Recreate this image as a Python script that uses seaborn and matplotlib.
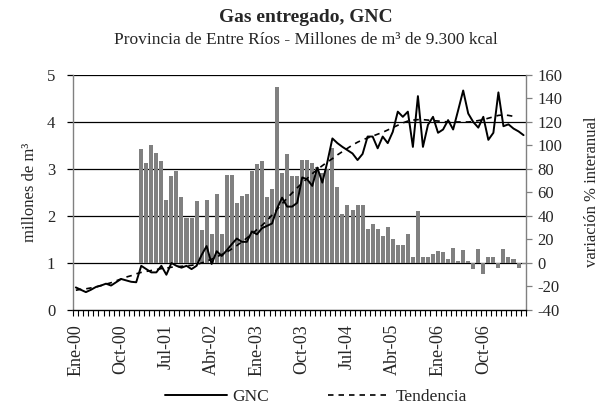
import numpy as np
import pandas as pd
import matplotlib
matplotlib.use("Agg")
import matplotlib.pyplot as plt
from matplotlib.lines import Line2D
import seaborn as sns

# Monthly periods Ene-00 .. Jun-07
meses = ["Ene", "Feb", "Mar", "Abr", "May", "Jun", "Jul", "Ago", "Sep", "Oct", "Nov", "Dic"]
periodos = [f"{m}-{a:02d}" for a in range(0, 8) for m in meses][:90]

# GNC delivered, millions of m3 (left axis)
gnc = [0.48, 0.43, 0.38, 0.43, 0.49, 0.52, 0.56, 0.52, 0.59, 0.66,
       0.63, 0.60, 0.59, 0.94, 0.87, 0.80, 0.80, 0.94, 0.75, 1.00,
       0.94, 0.90, 0.94, 0.87, 0.94, 1.17, 1.36, 0.98, 1.25, 1.15,
       1.27, 1.40, 1.52, 1.45, 1.45, 1.67, 1.61, 1.74, 1.79, 1.84,
       2.16, 2.39, 2.20, 2.20, 2.28, 2.82, 2.78, 2.64, 3.03, 2.71,
       3.15, 3.65, 3.55, 3.47, 3.40, 3.33, 3.19, 3.32, 3.69, 3.69,
       3.44, 3.69, 3.55, 3.79, 4.22, 4.11, 4.22, 3.47, 4.55, 3.47,
       3.94, 4.11, 3.77, 3.84, 4.04, 3.84, 4.25, 4.67, 4.18, 4.00,
       3.88, 4.11, 3.62, 3.77, 4.63, 3.91, 3.95, 3.86, 3.80, 3.72]

# Trend series (left axis), available up to Abr-07
tendencia = [0.42, 0.44, 0.45, 0.47, 0.49, 0.52, 0.55, 0.58, 0.62, 0.66,
             0.70, 0.73, 0.77, 0.80, 0.82, 0.84, 0.86, 0.88, 0.89, 0.91,
             0.92, 0.93, 0.94, 0.95, 0.97, 1.00, 1.04, 1.08, 1.13, 1.18,
             1.23, 1.30, 1.37, 1.45, 1.53, 1.62, 1.71, 1.80, 1.90, 2.02,
             2.14, 2.26, 2.38, 2.49, 2.60, 2.70, 2.80, 2.90, 2.99, 3.07,
             3.15, 3.22, 3.30, 3.37, 3.44, 3.51, 3.57, 3.62, 3.66, 3.70,
             3.74, 3.78, 3.83, 3.88, 3.93, 3.98, 4.02, 4.04, 4.05, 4.05,
             4.04, 4.03, 4.02, 4.01, 4.00, 4.00, 4.00, 4.00, 4.00, 4.01,
             4.03, 4.05, 4.08, 4.11, 4.14, 4.15, 4.14, 4.12]

# Year-on-year change, % (right axis), Feb-01 .. Jun-07
variacion = [97, 85, 100, 94, 87, 54, 74, 78, 56, 38,
             38, 53, 28, 54, 25, 59, 25, 75, 75, 51,
             57, 59, 78, 84, 87, 56, 63, 150, 77, 93,
             74, 74, 88, 88, 85, 82, 77, 80, 98, 65,
             42, 49, 45, 49, 49, 29, 33, 29, 23, 31,
             20, 15, 15, 25, 5, 44, 5, 5, 8, 10,
             9, 3, 13, 2, 11, 2, -5, 12, -9, 5,
             5, -4, 12, 5, 3, -4, -1]

n = len(periodos)
x_gnc = np.arange(n)
x_tend = np.arange(len(tendencia))
x_var = np.arange(n - len(variacion), n)

df_line = pd.DataFrame({"x": x_gnc, "gnc": gnc})
df_tend = pd.DataFrame({"x": x_tend, "tend": tendencia})
df_var = pd.DataFrame({"x": x_var, "var": variacion})

sns.set_theme(style="white")
plt.rcParams["font.family"] = ["Liberation Serif", "DejaVu Serif"]
plt.rcParams["axes.unicode_minus"] = False

fig = plt.figure(figsize=(6.11, 4.12), dpi=100)
ax = fig.add_axes([0.12, 0.2476, 0.741, 0.5704])
ax2 = ax.twinx()

gray = "#808080"

# bars (right scale)
sns.barplot(data=df_var, x="x", y="var", ax=ax2, native_scale=True,
            color=gray, saturation=1, width=0.8, linewidth=0, zorder=2)
for v in [0, 40, 80, 120, 160]:
    ax2.axhline(v, color="black", lw=0.9, zorder=1)

# lines (left scale)
sns.lineplot(data=df_line, x="x", y="gnc", ax=ax, color="black", lw=1.4)
sns.lineplot(data=df_tend, x="x", y="tend", ax=ax, color="black", lw=1.2,
             linestyle=(0, (3.3, 3)))

ax.set_zorder(ax2.get_zorder() + 1)
ax.patch.set_visible(False)

ax.set_ylim(0, 5)
ax2.set_ylim(-40, 160)
ax.set_yticks(range(0, 6))
ax2.set_yticks(range(-40, 161, 20))
ax.set_xlim(-0.5, n - 0.5)
ax.set_xticks(range(0, n, 9))
ax.set_xticklabels(periodos[::9], rotation=90)
ax.set_xticks(np.arange(-0.5, n, 1), minor=True)

for a in (ax, ax2):
    a.set_xlabel("")
    a.set_ylabel("")
    for s in a.spines.values():
        s.set_visible(False)

ax.spines["left"].set_visible(True)
ax.spines["left"].set_color(gray)
ax.spines["bottom"].set_visible(True)
ax.spines["bottom"].set_color("black")
ax2.spines["right"].set_visible(True)
ax2.spines["right"].set_color(gray)
for s in ("left", "bottom"):
    ax.spines[s].set_linewidth(1.0)
ax2.spines["right"].set_linewidth(1.0)

ax.tick_params(axis="y", which="major", direction="out", length=4, width=0.9,
               color="black", labelsize=12, pad=9, left=True)
ax2.tick_params(axis="y", which="major", direction="out", length=4, width=0.9,
                color=gray, labelsize=12, pad=4, right=True)
ax.tick_params(axis="x", which="major", length=0, labelsize=13, pad=10)
ax.tick_params(axis="x", which="minor", direction="out", length=4, width=0.8,
               color="black", bottom=True)

fig.text(0.5, 1 - 17 / 412, "Gas entregado, GNC", ha="center", va="center",
         fontsize=14, fontweight="bold")
fig.text(0.5, 1 - 40 / 412,
         "Provincia de Entre Ríos - Millones de m³ de 9.300 kcal",
         ha="center", va="center", fontsize=12.5)
fig.text(30 / 611, 1 - 192 / 412, "millones de m³", rotation=90,
         ha="center", va="center", fontsize=12)
fig.text(592 / 611, 1 - 192 / 412, "variación % interanual", rotation=90,
         ha="center", va="center", fontsize=12)

handles = [Line2D([], [], color="black", lw=1.4),
           Line2D([], [], color="black", lw=1.2, linestyle=(0, (3.3, 3)))]
fig.legend(handles, ["GNC", "Tendencia"], loc="center",
           bbox_to_anchor=(0.517, 1 - 397 / 412), ncol=2, frameon=False,
           fontsize=12.5, handlelength=3.6, handletextpad=0.3,
           columnspacing=3.4)

fig.savefig("out.png", dpi=100)
